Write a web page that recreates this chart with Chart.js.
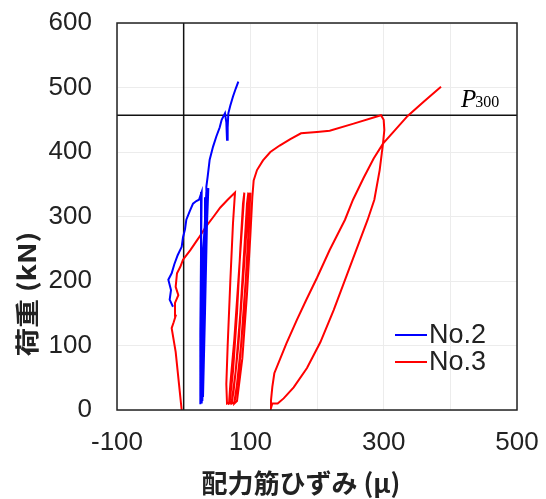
<!DOCTYPE html>
<html>
<head>
<meta charset="utf-8">
<script src="https://cdn.jsdelivr.net/npm/chart.js@4"></script>
<style>
  html, body { margin: 0; padding: 0; background: #fff; }
  #wrap { width: 546px; height: 499px; }
</style>
</head>
<body>
<div id="wrap"><canvas id="myChart"></canvas></div>
<script>
// tick labels shown on the strain axis (grid every 100)
const xTickLabels = [-100, 100, 300, 500];
const seriesNames = ['No.2', 'No.3'];
const p300Load = 457;

// No.2 : strain (μ) / load (kN)
const no2Strain = [-16, -21, -19, -23, -18, -14, -9, -3, -1, 2, 4, 9, 14, 19, 23, 27,
    26, 25, 25, 28, 31, 34,
    30, 27, 27, 30, 33, 36,
    31, 28, 26, 29, 32, 35,
    30, 26, 25, 27, 30, 33,
    32, 29, 28, 31, 34, 37,
    29, 26, 26, 29, 33, 36,
    33, 30, 29, 32, 35, 34,
    36, 39, 44, 49, 54, 57, 62, 64, 65, 66, 67, 70, 74, 78, 82];
const no2Load = [160, 171, 186, 202, 212, 226, 240, 253, 268, 280, 295, 308, 320, 324, 326, 338,
    240, 120, 11, 100, 230, 338,
    250, 120, 10, 90, 220, 342,
    230, 100, 12, 110, 240, 338,
    260, 140, 9, 80, 200, 330,
    220, 80, 14, 130, 260, 344,
    250, 110, 10, 100, 230, 340,
    240, 120, 20, 150, 290, 346,
    362, 388, 408, 424, 438, 450, 460, 446, 419, 438, 460, 472, 486, 498, 509];

// No.3 : strain (μ) / load (kN)
const no3Strain = [-3, -7, -12, -18, -15, -12, -13, -8, -12, -10, -5, -1, 10, 22, 34, 45, 55, 66, 77,
    74, 70, 66, 64, 65, 69, 74, 80, 85, 89, 91,
    88, 82, 76, 70, 68, 72, 78, 85, 91, 95, 97,
    95, 89, 82, 75, 72, 76, 83, 90, 96, 99, 100,
    98, 93, 86, 79, 76, 80, 88, 95, 100, 103,
    105, 110, 119, 130, 144, 160, 176, 200, 219, 255, 296,
    300, 301, 299, 294, 286, 276, 265, 245, 225, 205, 185, 165, 150, 141, 133, 131,
    131, 133, 136, 154, 170, 184, 200, 219, 242, 254, 270, 285, 299, 318, 336, 360, 386];
const no3Load = [0, 40, 90, 127, 136, 146, 166, 178, 191, 212, 222, 233, 248, 266, 285, 300, 314, 326, 337,
    290, 200, 100, 40, 10, 12, 60, 150, 250, 320, 337,
    290, 200, 110, 40, 10, 12, 60, 150, 250, 320, 337,
    290, 200, 100, 30, 10, 12, 60, 150, 250, 320, 337,
    290, 200, 100, 30, 10, 14, 80, 180, 270, 330,
    356, 372, 387, 400, 410, 420, 429, 431, 433, 444, 457,
    450, 434, 413, 372, 326, 295, 265, 210, 155, 105, 65, 35, 18, 10, 10, 3,
    15, 36, 57, 103, 140, 171, 205, 248, 295, 326, 360, 390, 413, 435, 456, 478, 501];

const toPoints = (xs, ys) => xs.map((v, i) => ({ x: v, y: ys[i] }));

const overlay = {
    id: 'overlay',
    afterDatasetsDraw(chart) {
        const { ctx, chartArea: a, scales: { y } } = chart;
        ctx.save();
        // plot frame
        ctx.strokeStyle = '#222';
        ctx.lineWidth = 1.5;
        ctx.strokeRect(a.left, a.top, a.right - a.left, a.bottom - a.top);

        // P300 label
        const py = y.getPixelForValue(p300Load) - 8;
        const px = a.right - 56;
        ctx.fillStyle = '#000';
        ctx.textAlign = 'left';
        ctx.textBaseline = 'alphabetic';
        ctx.font = 'italic 25px "Liberation Serif"';
        ctx.fillText('P', px, py);
        const w = ctx.measureText('P').width;
        ctx.font = '16px "Liberation Serif"';
        ctx.fillText('300', px + w - 1, py);

        // legend inside plot
        chart.data.datasets.forEach((ds, i) => {
            if (!seriesNames.includes(ds.label)) return;
            const ly = a.bottom - 75 + i * 27;
            ctx.strokeStyle = ds.borderColor;
            ctx.lineWidth = 2;
            ctx.beginPath();
            ctx.moveTo(a.right - 122, ly);
            ctx.lineTo(a.right - 90, ly);
            ctx.stroke();
            ctx.fillStyle = '#222';
            ctx.font = '27px "Liberation Sans"';
            ctx.textBaseline = 'middle';
            ctx.fillText(ds.label, a.right - 88, ly + 1);
        });
        ctx.restore();
    },
    afterDraw(chart) {
        const { ctx, chartArea: a } = chart;
        ctx.save();
        ctx.fillStyle = '#222';
        ctx.font = 'bold 26px "Noto Sans CJK JP"';
        ctx.textAlign = 'center';
        ctx.textBaseline = 'middle';
        ctx.fillText('配力筋ひずみ (μ)', (a.left + a.right) / 2 - 16, a.bottom + 73);
        ctx.translate(27, a.bottom - 116);
        ctx.rotate(-Math.PI / 2);
        ctx.scale(1.2, 1);
        ctx.font = 'bold 24px "Noto Sans CJK JP"';
        ctx.fillText('荷重 (kN)', 0, 0);
        ctx.restore();
    }
};

document.addEventListener('DOMContentLoaded', () => {
    const ctx = document.getElementById('myChart');
    const myChart = new Chart(ctx, {
        type: 'scatter',
        data: {
            datasets: [
                {
                    label: seriesNames[0],
                    data: toPoints(no2Strain, no2Load),
                    borderColor: '#0000ff',
                    borderWidth: 2,
                    showLine: true,
                    pointRadius: 0,
                    tension: 0
                }, {
                    label: seriesNames[1],
                    data: toPoints(no3Strain, no3Load),
                    borderColor: '#ff0000',
                    borderWidth: 2,
                    showLine: true,
                    pointRadius: 0,
                    tension: 0
                }, {
                    label: 'zero',
                    data: [{ x: 0, y: 0 }, { x: 0, y: 600 }],
                    borderColor: '#111',
                    borderWidth: 1.5,
                    showLine: true,
                    pointRadius: 0
                }, {
                    label: 'P300',
                    data: [{ x: -100, y: p300Load }, { x: 500, y: p300Load }],
                    borderColor: '#111',
                    borderWidth: 1.5,
                    showLine: true,
                    pointRadius: 0
                }
            ]
        },
        options: {
            responsive: true,
            maintainAspectRatio: false,
            animation: false,
            layout: { padding: { top: 23, right: 29, left: 0, bottom: 0 } },
            plugins: {
                legend: { display: false },
                tooltip: { enabled: false }
            },
            scales: {
                x: {
                    type: 'linear',
                    min: -100,
                    max: 500,
                    afterFit: (s) => {
                        s.height = 89;
                        s.paddingLeft = 0;
                        s.paddingRight = 0;
                    },
                    border: { display: false },
                    grid: { color: '#ececec', drawTicks: false },
                    ticks: {
                        stepSize: 100,
                        autoSkip: false,
                        maxRotation: 0,
                        padding: 17,
                        color: '#222',
                        font: { family: '"Liberation Sans", Arial', size: 26 },
                        callback: (v) => xTickLabels.includes(v) ? String(v) : ''
                    }
                },
                y: {
                    type: 'linear',
                    min: 0,
                    max: 600,
                    afterFit: (s) => {
                        s.width = 117;
                        s.paddingTop = 0;
                        s.paddingBottom = 0;
                    },
                    border: { display: false },
                    grid: { color: '#ececec', drawTicks: false },
                    ticks: {
                        stepSize: 100,
                        padding: 25,
                        color: '#222',
                        font: { family: '"Liberation Sans", Arial', size: 26 }
                    }
                }
            }
        },
        plugins: [overlay]
    });
});
</script>
</body>
</html>
